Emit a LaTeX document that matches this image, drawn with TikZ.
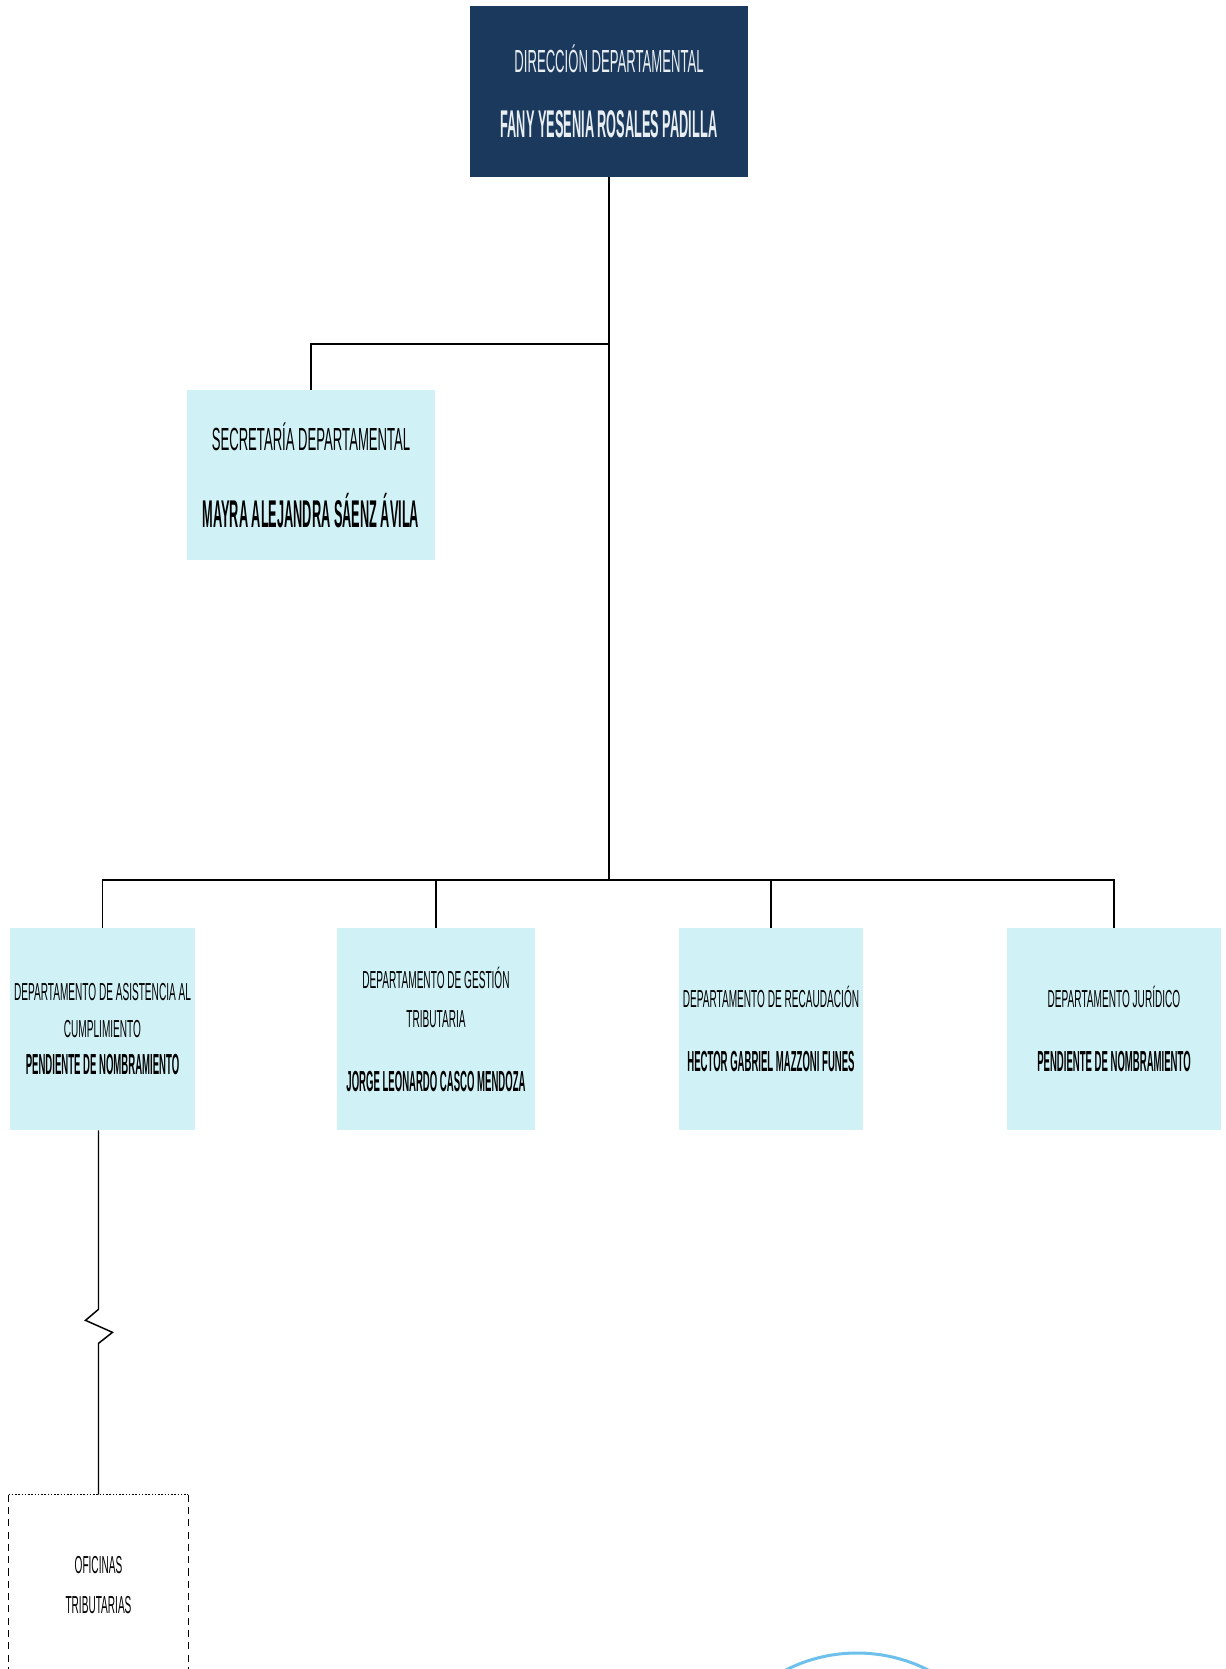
\documentclass[tikz,border=0pt]{standalone}
\usepackage{fontspec}
\newfontfamily\orgfont{Liberation Sans}[FakeStretch=0.41]
\newfontfamily\orgbold{Liberation Sans}[FakeStretch=0.33]
\definecolor{navy}{RGB}{27,57,92}
\definecolor{paleblue}{RGB}{208,242,247}
\definecolor{stampblue}{RGB}{110,192,236}
\definecolor{offwhite}{RGB}{232,238,242}
\newcommand{\namebold}[2]{{\orgbold\bfseries\fontsize{#1}{#1}\selectfont #2}}

\begin{document}
\begin{tikzpicture}[
		x=0.02cm, y=-0.02cm,
		every node/.style={align=center, inner sep=0pt},
		headbox/.style={fill=navy, text=offwhite, minimum width=5.56cm, minimum height=3.42cm},
		deptbox/.style={fill=paleblue, text=black, minimum height=4.04cm},
		officebox/.style={minimum width=3.58cm, minimum height=3.6cm},
		link/.style={line width=0.85pt}
	]
	\clip (0,0) rectangle (1226,1669);

		% Nodes
		\node[headbox, font=\orgfont\fontsize{18.2}{37}\selectfont] (dir) at (609,91.5)
			{DIRECCIÓN DEPARTAMENTAL\\ \namebold{22}{FANY YESENIA ROSALES PADILLA}};
		\node[deptbox, minimum width=4.96cm, minimum height=3.4cm, font=\orgfont\fontsize{18.2}{44}\selectfont] (sec) at (311,475)
			{SECRETARÍA DEPARTAMENTAL\\ \namebold{22}{MAYRA ALEJANDRA SÁENZ ÁVILA}};
		\node[deptbox, minimum width=3.7cm, font=\orgfont\fontsize{14}{21.3}\selectfont] (asis) at (102.5,1029)
			{DEPARTAMENTO DE ASISTENCIA AL\\ CUMPLIMIENTO\\ \namebold{16.5}{PENDIENTE DE NOMBRAMIENTO}};
		\node[deptbox, minimum width=3.96cm, font=\orgfont\fontsize{14}{22.2}\selectfont] (gest) at (436,1029)
			{DEPARTAMENTO DE GESTIÓN\\ TRIBUTARIA\\[14.2pt] \namebold{16.5}{JORGE LEONARDO CASCO MENDOZA}};
		\node[deptbox, minimum width=3.68cm, font=\orgfont\fontsize{14}{36.4}\selectfont] (rec) at (771,1029)
			{DEPARTAMENTO DE RECAUDACIÓN\\ \namebold{16.5}{HECTOR GABRIEL MAZZONI FUNES}};
		\node[deptbox, minimum width=4.28cm, font=\orgfont\fontsize{14}{36.4}\selectfont] (jur) at (1114,1029)
			{DEPARTAMENTO JURÍDICO\\ \namebold{16.5}{PENDIENTE DE NOMBRAMIENTO}};
		\node[officebox, font=\orgfont\fontsize{14}{22.8}\selectfont] (ofi) at (98.5,1585) {OFICINAS\\ TRIBUTARIAS};

		% Junctions
		\coordinate (jsec) at (dir.south |- 0,344);
		\coordinate (jbus) at (dir.south |- 0,880);

		% Lines
		\draw[link] (dir.south) -- (jbus);
		\draw[link] (sec.north) |- (jsec);
		\draw[link] (asis.north) |- (jbus) -| (jur.north);
		\draw[link] (gest.north) -- (gest.north |- jbus);
		\draw[link] (rec.north) -- (rec.north |- jbus);
		\draw[link] (asis.south -| ofi.north) -- ++(0,179) -- ++(-13,11) -- ++(27,12) -- ++(-14,11) -- (ofi.north);

		% Office frame
		\draw[link, densely dotted] (ofi.north west) -- (ofi.north east);
		\draw[line width=0.7pt, dash pattern=on 4pt off 3pt] (ofi.north west) -- (ofi.south west);
		\draw[line width=0.7pt, dash pattern=on 4pt off 3pt] (ofi.north east) -- (ofi.south east);

		% Stamp
		\draw[stampblue, line width=0.06cm] (857,1810) circle[radius=157];

\end{tikzpicture}
\end{document}
